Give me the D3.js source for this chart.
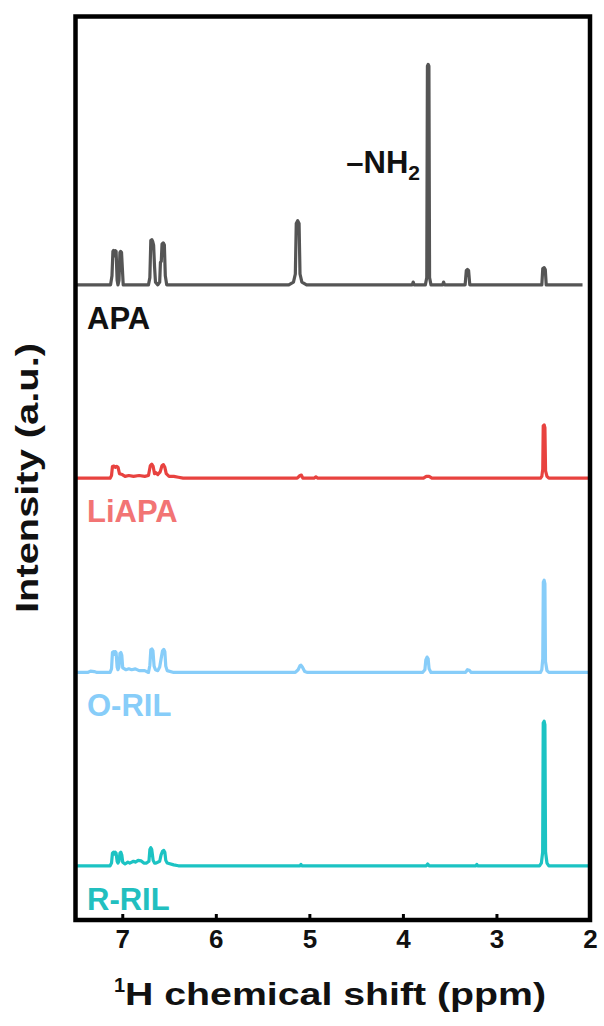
<!DOCTYPE html>
<html>
<head>
<meta charset="utf-8">
<script src="https://cdn.jsdelivr.net/npm/d3@7"></script>
<style>
  body { margin: 0; background: #fff; }
  text { font-family: "Liberation Sans", Arial, sans-serif; font-weight: bold; }
</style>
</head>
<body>
<div id="chart"></div>
<script>
// spectra as [ppm, intensity] points (intensity relative to own baseline)
const apa = [
  [7.5,0],[7.125,0],[7.11,1.0],[7.10,3.7],[7.094,3.8],[7.083,3.2],[7.075,3.8],[7.066,3.7],[7.055,0.5],
  [7.046,0],[7.035,0.5],[7.025,3.6],[7.018,3.7],[7.008,3.6],[7.0,2.0],[6.99,0],
  [6.72,0],[6.705,0.8],[6.695,4.9],[6.684,5.0],[6.675,4.8],[6.665,4.4],[6.655,2.0],[6.645,0.3],[6.62,0],
  [6.60,0.3],[6.592,2.5],[6.583,2.6],[6.575,4.5],[6.562,4.65],[6.55,4.4],[6.54,1.0],[6.525,0],
  [5.22,0],[5.17,0.3],[5.15,1.2],[5.14,6.8],[5.125,7.1],[5.11,6.8],[5.10,1.2],[5.08,0.3],[5.03,0],
  [3.90,0],[3.89,0.3],[3.88,0],
  [3.76,0],[3.745,0.8],[3.738,24.2],[3.73,24.4],[3.722,24.2],[3.715,0.8],[3.70,0],
  [3.575,0],[3.565,0.3],[3.555,0],
  [3.335,0],[3.322,1.6],[3.31,1.7],[3.298,1.6],[3.285,0],
  [2.515,0],[2.505,1.8],[2.49,1.9],[2.478,1.7],[2.468,0],
  [2.08,0]
];
const liapa = [
  [7.5,0],[7.13,0],[7.115,0.3],[7.105,1.3],[7.09,1.35],[7.075,1.2],[7.06,1.3],[7.045,1.2],[7.03,0.5],
  [7.0,0.4],[6.97,0.2],[6.93,0.3],[6.88,0.2],[6.82,0.3],[6.76,0.2],[6.72,0.3],
  [6.70,1.4],[6.685,1.55],[6.67,1.3],[6.655,0.5],[6.64,0.6],[6.62,0.4],[6.595,0.7],[6.575,1.4],[6.56,1.5],
  [6.545,1.2],[6.53,0.5],[6.50,0.2],[6.45,0.2],[6.40,0.1],[6.35,0],
  [5.13,0],[5.10,0.3],[5.085,0.35],[5.07,0],[4.95,0],[4.93,0.15],[4.91,0],
  [3.78,0],[3.75,0.2],[3.72,0.2],[3.69,0],
  [2.53,0],[2.515,0.2],[2.505,1.0],[2.5,5.8],[2.49,5.9],[2.482,5.6],[2.475,0.8],[2.46,0.2],[2.44,0],
  [2.0,0]
];
const oril = [
  [7.5,0],[7.37,0],[7.34,0.15],[7.30,0.1],[7.27,0],[7.13,0],[7.115,0.4],[7.105,2.2],[7.094,2.3],[7.083,2.0],
  [7.075,2.3],[7.066,2.2],[7.055,0.6],[7.046,0.3],[7.035,0.6],[7.025,2.1],[7.015,2.2],[7.005,1.9],[6.995,0.5],
  [6.96,0.3],[6.93,0.4],[6.90,0.3],[6.86,0.4],[6.82,0.2],[6.76,0.2],[6.72,0],
  [6.705,0.8],[6.695,2.5],[6.683,2.6],[6.672,2.4],[6.66,0.7],[6.645,0.3],[6.62,0.2],
  [6.60,0.6],[6.585,1.5],[6.57,2.4],[6.556,2.55],[6.545,2.3],[6.535,0.7],[6.52,0.2],[6.45,0],
  [5.15,0],[5.12,0.3],[5.10,0.75],[5.09,0.8],[5.075,0.6],[5.05,0.1],[5.02,0],
  [3.79,0],[3.765,0.3],[3.755,1.4],[3.742,1.7],[3.73,1.5],[3.72,0.4],[3.70,0],
  [3.33,0],[3.31,0.3],[3.29,0.25],[3.27,0],
  [2.53,0],[2.515,0.3],[2.505,1.5],[2.499,10.0],[2.49,10.2],[2.482,9.8],[2.476,1.2],[2.46,0.2],[2.44,0],
  [2.0,0]
];
const rril = [
  [7.5,0],[7.13,0],[7.115,0.3],[7.105,1.4],[7.094,1.5],[7.083,1.3],[7.075,1.5],[7.066,1.4],[7.055,0.5],
  [7.046,0.3],[7.035,0.5],[7.025,1.4],[7.015,1.5],[7.005,1.2],[6.995,0.4],
  [6.97,0.2],[6.94,0.4],[6.92,0.3],[6.88,0.5],[6.86,0.4],[6.83,0.6],[6.80,0.55],[6.77,0.3],[6.74,0.3],
  [6.715,0.5],[6.705,1.8],[6.695,2.0],[6.685,1.8],[6.67,0.6],[6.655,0.3],[6.64,0.3],
  [6.60,0.5],[6.585,1.2],[6.57,1.6],[6.556,1.7],[6.545,1.5],[6.535,0.6],[6.52,0.3],[6.45,0.1],[6.40,0],
  [5.10,0],[5.09,0.15],[5.08,0],[3.75,0],[3.735,0.2],[3.72,0],[3.22,0],[3.21,0.15],[3.20,0],
  [2.54,0],[2.52,0.3],[2.506,1.5],[2.5,15.8],[2.49,16.0],[2.482,15.6],[2.475,1.5],[2.46,0.3],[2.44,0],
  [2.0,0]
];

const seriesNames = ["R-RIL", "O-RIL", "LiAPA", "APA"];
const seriesData = [rril, oril, liapa, apa];
const offsets = [0, 21.4, 42.9, 64.3];
const lineColors = ["#1cc3c3", "#87cdf9", "#e8423f", "#555555"];
const labelColors = ["#22bfbf", "#87cdf9", "#f27474", "#111111"];
const xTicks = [7, 6, 5, 4, 3, 2];

const width = 604, height = 1026;
const frame = { left: 75.5, right: 590, top: 16.5, bottom: 920 };

const svg = d3.select("#chart").append("svg")
    .attr("width", width)
    .attr("height", height);

svg.append("rect").attr("width", width).attr("height", height).attr("fill", "#fff");

const x = d3.scaleLinear().domain([7.5, 2]).range([frame.left, frame.right]);
const y = d3.scaleLinear().domain([-6, 94]).range([frame.bottom, frame.top]);

// spectra
seriesData.forEach(function(data, i) {
    const line = d3.line()
        .x(d => x(d[0]))
        .y(d => y(d[1] + offsets[i]));
    svg.append("path")
        .datum(data)
        .attr("fill", "none")
        .attr("stroke", lineColors[i])
        .attr("stroke-width", 3.2)
        .attr("stroke-linejoin", "round")
        .attr("d", line);

    svg.append("text")
        .attr("x", 87)
        .attr("y", y(offsets[i]) + 44)
        .attr("fill", labelColors[i])
        .style("font-size", "31px")
        .text(seriesNames[i]);
});

// -NH2 annotation
const nh = svg.append("text")
    .attr("x", 420)
    .attr("y", 173)
    .attr("text-anchor", "end")
    .attr("fill", "#111")
    .style("font-size", "31px");
nh.append("tspan").text("\u2013NH");
nh.append("tspan").attr("dy", 7).style("font-size", "21px").text("2");

// x axis (ticks inward)
const xAxis = svg.append("g")
    .attr("transform", `translate(0, ${frame.bottom})`)
    .call(d3.axisBottom(x).tickValues(xTicks).tickSizeInner(-6).tickSizeOuter(0).tickPadding(10).tickFormat(d3.format("d")));
xAxis.select(".domain").remove();
xAxis.selectAll("line").attr("stroke", "#000").attr("stroke-width", 3);
xAxis.selectAll("text")
    .attr("fill", "#111")
    .style("font-size", "26px")
    .style("font-family", "'Liberation Sans', Arial, sans-serif")
    .style("font-weight", "bold");

// frame
svg.append("rect")
    .attr("x", frame.left)
    .attr("y", frame.top)
    .attr("width", frame.right - frame.left)
    .attr("height", frame.bottom - frame.top)
    .attr("fill", "none")
    .attr("stroke", "#000")
    .attr("stroke-width", 4.5);

// axis titles (glyphs in the picture run wider than plain Arial)
svg.append("text")
    .attr("x", 114)
    .attr("y", 992)
    .attr("fill", "#111")
    .style("font-size", "20px")
    .text("1");
svg.append("text")
    .attr("x", 125)
    .attr("y", 1005)
    .attr("fill", "#111")
    .attr("textLength", 421)
    .attr("lengthAdjust", "spacingAndGlyphs")
    .style("font-size", "31px")
    .text("H chemical shift (ppm)");

svg.append("text")
    .attr("transform", "rotate(-90)")
    .attr("x", -478)
    .attr("y", 38)
    .attr("text-anchor", "middle")
    .attr("fill", "#111")
    .attr("textLength", 270)
    .attr("lengthAdjust", "spacingAndGlyphs")
    .style("font-size", "32px")
    .text("Intensity (a.u.)");
</script>
</body>
</html>
